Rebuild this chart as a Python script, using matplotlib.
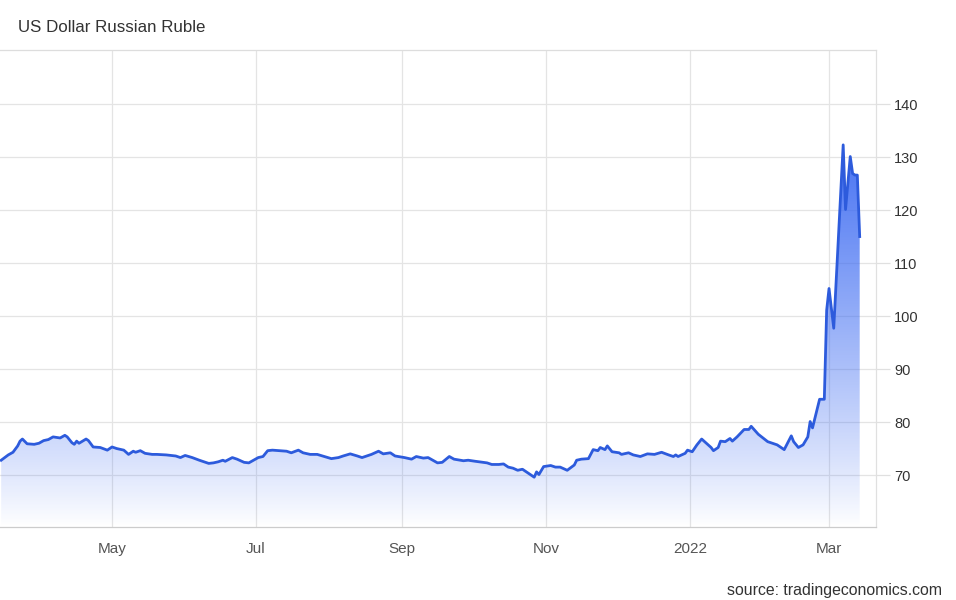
import matplotlib
matplotlib.use("Agg")
import matplotlib.pyplot as plt
import matplotlib.dates as mdates
import numpy as np
import pandas as pd
from matplotlib.patches import Polygon

plt.rcParams['font.family'] = ['Liberation Sans', 'DejaVu Sans']

title = "US Dollar Russian Ruble"
source = "source: tradingeconomics.com"

dates = [
    "2021-03-15", "2021-03-18", "2021-03-20", "2021-03-22", "2021-03-23", "2021-03-24",
    "2021-03-26", "2021-03-29", "2021-03-31", "2021-04-02", "2021-04-04", "2021-04-06",
    "2021-04-09", "2021-04-11", "2021-04-12", "2021-04-14", "2021-04-15", "2021-04-16",
    "2021-04-17", "2021-04-20", "2021-04-21", "2021-04-23", "2021-04-26", "2021-04-29",
    "2021-05-01", "2021-05-03", "2021-05-06", "2021-05-08", "2021-05-10", "2021-05-11",
    "2021-05-13", "2021-05-15", "2021-05-18", "2021-05-20", "2021-05-24", "2021-05-28",
    "2021-05-30", "2021-06-01", "2021-06-04", "2021-06-07", "2021-06-11", "2021-06-13",
    "2021-06-15", "2021-06-17", "2021-06-18", "2021-06-21", "2021-06-23", "2021-06-26",
    "2021-06-28", "2021-06-30", "2021-07-02", "2021-07-04", "2021-07-06", "2021-07-08",
    "2021-07-11", "2021-07-14", "2021-07-16", "2021-07-19", "2021-07-21", "2021-07-24",
    "2021-07-27", "2021-07-30", "2021-08-02", "2021-08-05", "2021-08-07", "2021-08-10",
    "2021-08-13", "2021-08-15", "2021-08-19", "2021-08-22", "2021-08-24", "2021-08-27",
    "2021-08-29", "2021-09-02", "2021-09-05", "2021-09-07", "2021-09-10", "2021-09-12",
    "2021-09-14", "2021-09-16", "2021-09-18", "2021-09-21", "2021-09-23", "2021-09-27",
    "2021-09-29", "2021-10-02", "2021-10-07", "2021-10-09", "2021-10-12", "2021-10-14",
    "2021-10-16", "2021-10-18", "2021-10-20", "2021-10-22", "2021-10-24", "2021-10-27",
    "2021-10-28", "2021-10-29", "2021-10-31", "2021-11-03", "2021-11-05", "2021-11-07",
    "2021-11-10", "2021-11-13", "2021-11-14", "2021-11-16", "2021-11-19", "2021-11-21",
    "2021-11-23", "2021-11-24", "2021-11-26", "2021-11-27", "2021-11-29", "2021-12-02",
    "2021-12-03", "2021-12-06", "2021-12-08", "2021-12-11", "2021-12-14", "2021-12-17",
    "2021-12-20", "2021-12-23", "2021-12-25", "2021-12-26", "2021-12-27", "2021-12-30",
    "2021-12-31", "2022-01-02", "2022-01-04", "2022-01-06", "2022-01-08", "2022-01-10",
    "2022-01-11", "2022-01-13", "2022-01-14", "2022-01-16", "2022-01-18", "2022-01-19",
    "2022-01-21", "2022-01-24", "2022-01-26", "2022-01-27", "2022-01-29", "2022-01-30",
    "2022-02-03", "2022-02-07", "2022-02-10", "2022-02-13", "2022-02-14", "2022-02-16",
    "2022-02-18", "2022-02-20", "2022-02-21", "2022-02-22", "2022-02-25", "2022-02-27",
    "2022-02-28", "2022-03-01", "2022-03-03", "2022-03-07", "2022-03-08", "2022-03-10",
    "2022-03-11", "2022-03-12", "2022-03-13", "2022-03-14",
]

usdrub = [
    72.8, 73.8, 74.3, 75.5, 76.4, 76.8,
    75.9, 75.8, 76.0, 76.5, 76.7, 77.2,
    77.0, 77.5, 77.2, 76.1, 75.8, 76.4,
    76.0, 76.8, 76.5, 75.3, 75.2, 74.7,
    75.3, 75.0, 74.7, 73.9, 74.5, 74.3,
    74.6, 74.1, 73.9, 73.9, 73.8, 73.6,
    73.3, 73.7, 73.3, 72.8, 72.2, 72.3,
    72.5, 72.8, 72.6, 73.3, 73.0, 72.4,
    72.3, 72.8, 73.3, 73.5, 74.6, 74.7,
    74.6, 74.5, 74.2, 74.7, 74.2, 73.9,
    73.9, 73.5, 73.1, 73.3, 73.6, 74.0,
    73.6, 73.3, 73.9, 74.5, 74.0, 74.2,
    73.6, 73.3, 73.0, 73.5, 73.2, 73.3,
    72.8, 72.3, 72.4, 73.5, 73.0, 72.7,
    72.8, 72.6, 72.3, 72.0, 72.0, 72.1,
    71.5, 71.3, 70.9, 71.1, 70.5, 69.6,
    70.6, 70.1, 71.6, 71.8, 71.5, 71.5,
    70.9, 71.9, 72.8, 73.0, 73.1, 74.8,
    74.6, 75.2, 74.8, 75.5, 74.4, 74.2,
    73.9, 74.2, 73.8, 73.5, 74.0, 73.9,
    74.3, 73.8, 73.5, 73.8, 73.5, 74.1,
    74.7, 74.4, 75.7, 76.8, 76.0, 75.2,
    74.6, 75.2, 76.4, 76.3, 76.9, 76.4,
    77.2, 78.6, 78.6, 79.2, 78.2, 77.7,
    76.3, 75.7, 74.8, 77.4, 76.3, 75.2,
    75.7, 77.2, 80.1, 78.9, 84.3, 84.3,
    101.1, 105.2, 97.7, 132.3, 120.1, 130.1,
    126.9, 126.6, 126.6, 115.0,
]

yticks = [70, 80, 90, 100, 110, 120, 130, 140]
xtick_dates = ["2021-05-01", "2021-07-01", "2021-09-01", "2021-11-01", "2022-01-01", "2022-03-01"]
xtick_labels = ["May", "Jul", "Sep", "Nov", "2022", "Mar"]

x = mdates.date2num(pd.to_datetime(dates).to_pydatetime())
y = np.array(usdrub)

W, H = 956, 600
fig = plt.figure(figsize=(W / 100, H / 100), dpi=100)
ax = fig.add_axes([0, 1 - 527 / H, 876 / W, (527 - 50) / H])

ymin, ymax = 60.2, 150.2
xmin = mdates.date2num(pd.Timestamp("2021-03-14 12:00").to_pydatetime())
xmax = mdates.date2num(pd.Timestamp("2022-03-20 22:00").to_pydatetime())
ax.set_xlim(xmin, xmax)
ax.set_ylim(ymin, ymax)

# gradient fill under the line
base_rgb = np.array([0.24, 0.42, 0.95])
top_v = float(y.max())
n = 256
vals = np.linspace(ymin, top_v, n)
alpha = np.clip((vals - ymin) / (top_v - ymin), 0, 1) ** 0.9 * 0.95
img = np.zeros((n, 1, 4))
img[:, 0, :3] = base_rgb
img[:, 0, 3] = alpha
im = ax.imshow(img, aspect='auto', origin='lower',
               extent=[x[0], x[-1], ymin, top_v], zorder=1, interpolation='bilinear')
poly_xy = np.vstack([np.column_stack([x, y]), [[x[-1], ymin], [x[0], ymin]]])
clip = Polygon(poly_xy, closed=True, facecolor='none', edgecolor='none')
ax.add_patch(clip)
im.set_clip_path(clip)

ax.plot(x, y, color='#2d5bdc', lw=2.0, zorder=3, solid_joinstyle='round')

# grid
ax.set_yticks(yticks)
xt = mdates.date2num(pd.to_datetime(xtick_dates).to_pydatetime())
ax.set_xticks(xt)
ax.set_xticklabels(xtick_labels)
ax.grid(True, color='#e4e4e4', lw=0.9, zorder=0)
ax.set_axisbelow(True)

ax.yaxis.tick_right()
ax.tick_params(axis='y', length=10, color='#e0e0e0', width=0.9, pad=3,
               labelsize=10.5, labelcolor='#333333')
ax.tick_params(axis='x', length=0, pad=11, labelsize=11, labelcolor='#555555')

ax.spines['left'].set_visible(False)
ax.spines['top'].set_color('#dddddd')
ax.spines['right'].set_color('#e0e0e0')
ax.spines['bottom'].set_color('#cccccc')
for s in ['top', 'right', 'bottom']:
    ax.spines[s].set_linewidth(0.9)

fig.text(18 / W, 1 - 27 / H, title, fontsize=12.2, color='#333333', va='center', ha='left')
fig.text(942 / W, 1 - 590 / H, source, fontsize=11.4, color='#333333', va='center', ha='right')

fig.savefig("out.png", dpi=100)
